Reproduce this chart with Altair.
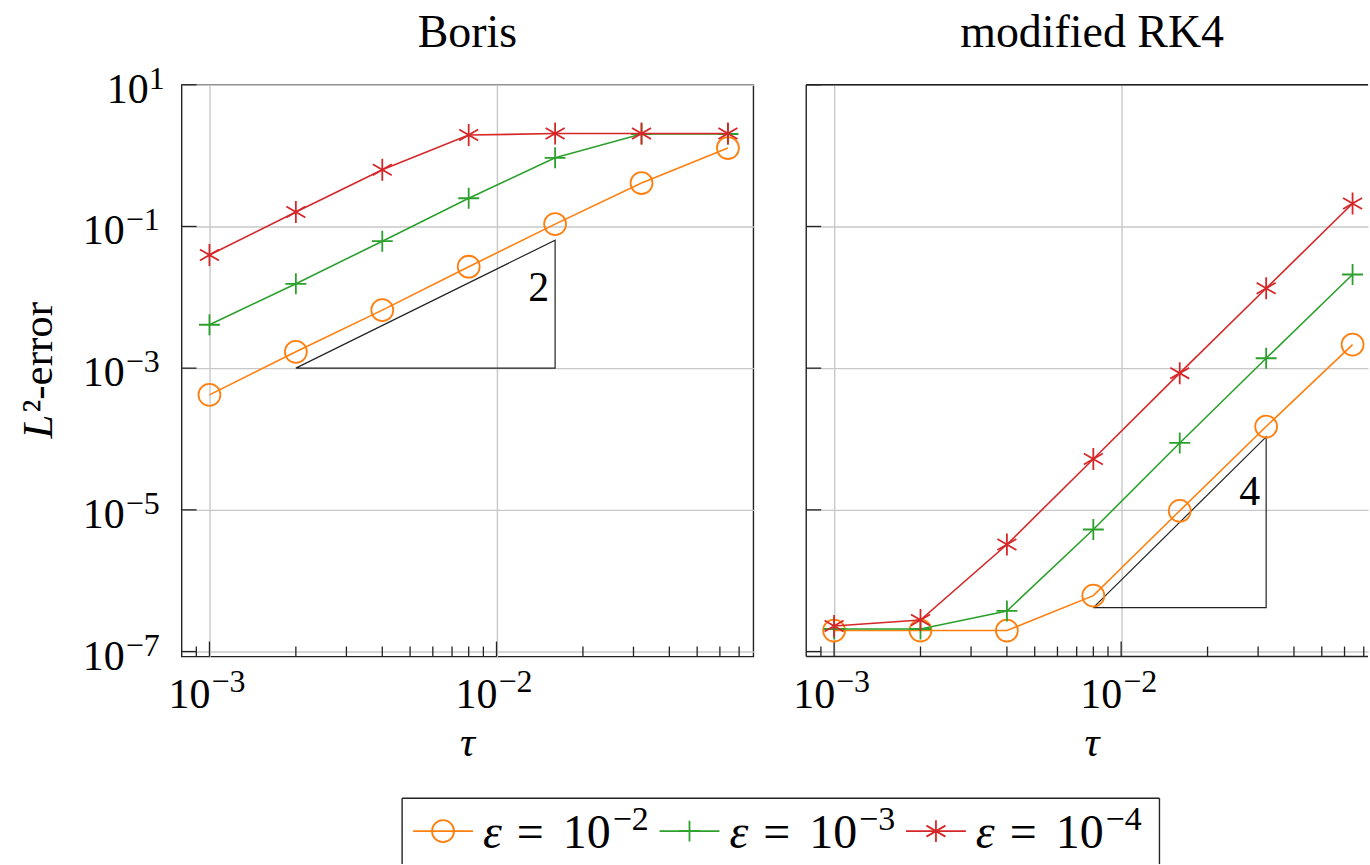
import altair as alt
import pandas as pd

# step sizes
tau = [0.001, 0.002, 0.004, 0.008, 0.016, 0.032, 0.064]

eps_exp = ["−2", "−3", "−4"]
eps_colors = ["#ff7f0e", "#2ca02c", "#d62728"]

# L2-errors, Boris integrator
boris_eps2 = [4.2e-4, 1.7e-3, 6.6e-3, 2.7e-2, 0.108, 0.41, 1.28]
boris_eps3 = [4.1e-3, 1.55e-2, 6.2e-2, 0.25, 0.93, 2.02, 2.02]
boris_eps4 = [3.96e-2, 0.16, 0.63, 1.95, 2.05, 2.05, 2.05]

# L2-errors, modified RK4
rk4_eps2 = [1.98e-7, 1.98e-7, 1.98e-7, 6.15e-7, 9.7e-6, 1.5e-4, 2.15e-3]
rk4_eps3 = [2.08e-7, 2.08e-7, 3.74e-7, 5.28e-6, 8.8e-5, 1.38e-3, 2.1e-2]
rk4_eps4 = [2.3e-7, 2.79e-7, 3.24e-6, 5.23e-5, 8.5e-4, 1.34e-2, 0.211]

# slope triangles
boris_tri_tau = [0.002, 0.016]
boris_tri_err = [1e-3, 0.064]
boris_tri_text = "2"
boris_tri_text_err = 0.0138
rk4_tri_tau = [0.008, 0.032]
rk4_tri_err = [4.17e-7, 1.07e-4]
rk4_tri_text = "4"
rk4_tri_text_err = 1.85e-5

# axis ticks
x_major = [1e-3, 1e-2]
x_major_exp = ["−3", "−2"]
x_minor = [9e-4, 2e-3, 3e-3, 4e-3, 5e-3, 6e-3, 7e-3, 8e-3, 9e-3,
           2e-2, 3e-2, 4e-2, 5e-2, 6e-2, 7e-2]
y_major = [1e1, 1e-1, 1e-3, 1e-5, 1e-7]
y_major_exp = ["1", "−1", "−3", "−5", "−7"]

W = 573          # full panel width
W_RIGHT = 563    # right panel, cut at the page edge
H = 573
DECADE_X = W / 1.9917
FONT = "Liberation Serif"
TICK_FS = 42
EXP_FS = 32
LEG_FS = 48
LEG_EXP_FS = 34
INK = "#222222"
GRID = "#c8c8c8"

X_LO = -3.097
y_scale = alt.Scale(type="log", domain=[10 ** -7.07, 10 ** 1.0], nice=False)
x_axis = alt.Axis(values=x_major, grid=True, labels=False, ticks=False, domain=False,
                  gridColor=GRID, gridWidth=1.4)
y_axis = alt.Axis(values=y_major, grid=True, labels=False, ticks=False, domain=False,
                  gridColor=GRID, gridWidth=1.4)


def Y(field):
    return alt.Y(field, type="quantitative", scale=y_scale, axis=y_axis, title=None)


one_row = pd.DataFrame({"k": [0]})
marker_paths = ["circle", "M-1,0H1M0,-1V1",
                "M0,-1V1M-0.866,-0.5L0.866,0.5M-0.866,0.5L0.866,-0.5"]
marker_sizes = [484, 441, 484]


def text_at(s, x, y, size, italic=False, align="left"):
    kw = dict(text=s, font=FONT, fontSize=size, align=align, baseline="alphabetic",
              color="black")
    if italic:
        kw["fontStyle"] = "italic"
    return alt.Chart(one_row).mark_text(**kw).encode(x=alt.value(x), y=alt.value(y))


def panel(title, errs, tri_tau, tri_err, tri_text, tri_text_err, is_left):
    width = W if is_left else W_RIGHT
    x_scale = alt.Scale(type="log", domain=[10 ** X_LO, 10 ** (X_LO + width / DECADE_X)],
                        nice=False)

    def X(field):
        return alt.X(field, type="quantitative", scale=x_scale, axis=x_axis, title=None)

    layers = []
    xt_minor = pd.DataFrame({"t": x_minor})
    xt_major = pd.DataFrame({"t": x_major, "e": x_major_exp})
    yt_major = pd.DataFrame({"v": y_major, "e": y_major_exp})

    if not is_left:
        # frame on three sides; the right side lies beyond the page
        layers.append(alt.Chart(one_row).mark_rule(color=INK, strokeWidth=1.4).encode(
            x=alt.value(0), x2=alt.value(width), y=alt.value(0)))
        layers.append(alt.Chart(one_row).mark_rule(color=INK, strokeWidth=1.4).encode(
            x=alt.value(0), x2=alt.value(width), y=alt.value(H)))
        layers.append(alt.Chart(one_row).mark_rule(color=INK, strokeWidth=1.4).encode(
            x=alt.value(0), y=alt.value(0), y2=alt.value(H)))

    # inward ticks
    layers.append(alt.Chart(xt_minor).mark_rule(color=INK, strokeWidth=1.3).encode(
        x=X("t"), y=alt.value(H), y2=alt.value(H - 10)))
    layers.append(alt.Chart(xt_major).mark_rule(color=INK, strokeWidth=1.3).encode(
        x=X("t"), y=alt.value(H), y2=alt.value(H - 15)))
    layers.append(alt.Chart(yt_major).mark_rule(color=INK, strokeWidth=1.3).encode(
        y=Y("v"), x=alt.value(0), x2=alt.value(15)))

    # x tick labels: base and exponent
    layers.append(alt.Chart(xt_major).mark_text(
        text="10", font=FONT, fontSize=TICK_FS, align="right", baseline="alphabetic",
        dx=1, color="black").encode(x=X("t"), y=alt.value(H + 52)))
    layers.append(alt.Chart(xt_major).mark_text(
        font=FONT, fontSize=EXP_FS, align="left", baseline="alphabetic",
        dx=2, color="black").encode(x=X("t"), y=alt.value(H + 36), text="e:N"))

    # slope triangle
    tri = pd.DataFrame({
        "tau": [tri_tau[0], tri_tau[1], tri_tau[1], tri_tau[0]],
        "err": [tri_err[0], tri_err[0], tri_err[1], tri_err[0]],
        "k": [0, 1, 2, 3],
    })
    layers.append(alt.Chart(tri).mark_line(color=INK, strokeWidth=1.2).encode(
        x=X("tau"), y=Y("err"), order="k:Q"))
    tri_lab = pd.DataFrame({"tau": [tri_tau[1]], "err": [tri_text_err]})
    layers.append(alt.Chart(tri_lab).mark_text(
        text=tri_text, font=FONT, fontSize=TICK_FS, align="right", baseline="alphabetic",
        dx=-6, dy=14, color="black").encode(x=X("tau"), y=Y("err")))

    # error curves, drawn series by series
    for vals, color, path, size in zip(errs, eps_colors, marker_paths, marker_sizes):
        d = pd.DataFrame({"tau": tau, "err": vals})
        layers.append(alt.Chart(d).mark_line(color=color, strokeWidth=1.6).encode(
            x=X("tau"), y=Y("err")))
        layers.append(alt.Chart(d).mark_point(
            color=color, shape=path, size=size, filled=False, strokeWidth=1.8,
            opacity=1).encode(x=X("tau"), y=Y("err")))

    # panel title and x label
    layers.append(text_at(title, W / 2, -38, 46, align="center"))
    layers.append(text_at("τ", W / 2, H + 100, 42, italic=True, align="center"))

    if is_left:
        # y tick labels
        layers.append(alt.Chart(yt_major).transform_filter("datum.v > 1").mark_text(
            text="10", font=FONT, fontSize=TICK_FS, align="left", baseline="alphabetic",
            color="black").encode(x=alt.value(-75), y=Y("v"), yOffset=alt.value(18)))
        layers.append(alt.Chart(yt_major).transform_filter("datum.v > 1").mark_text(
            font=FONT, fontSize=EXP_FS, align="left", baseline="alphabetic",
            color="black").encode(x=alt.value(-33), y=Y("v"), yOffset=alt.value(4),
                                  text="e:N"))
        layers.append(alt.Chart(yt_major).transform_filter("datum.v < 1").mark_text(
            text="10", font=FONT, fontSize=TICK_FS, align="left", baseline="alphabetic",
            color="black").encode(x=alt.value(-99), y=Y("v"), yOffset=alt.value(18)))
        layers.append(alt.Chart(yt_major).transform_filter("datum.v < 1").mark_text(
            font=FONT, fontSize=EXP_FS, align="left", baseline="alphabetic",
            color="black").encode(x=alt.value(-56), y=Y("v"), yOffset=alt.value(4),
                                  text="e:N"))
        # y label: italic L followed by the rest
        layers.append(alt.Chart(one_row).mark_text(
            text="L", font=FONT, fontSize=43, fontStyle="italic", angle=270,
            align="left", baseline="alphabetic", color="black").encode(
            x=alt.value(-130), y=alt.value(H / 2 + 68)))
        layers.append(alt.Chart(one_row).mark_text(
            text="²-error", font=FONT, fontSize=43, angle=270,
            align="left", baseline="alphabetic", color="black").encode(
            x=alt.value(-130), y=alt.value(H / 2 + 42)))

        # legend below both panels: frame, then one entry per series
        for x1, y1, x2, y2 in [(221, 715, 980, 715), (221, 715, 221, 781),
                               (980, 715, 980, 781)]:
            layers.append(alt.Chart(one_row).mark_rule(color=INK, strokeWidth=1.4).encode(
                x=alt.value(x1), x2=alt.value(x2), y=alt.value(y1), y2=alt.value(y2)))
        for i, (color, path, size, ex) in enumerate(
                zip(eps_colors, marker_paths, marker_sizes, eps_exp)):
            left_x = 232 + 247 * i
            layers.append(alt.Chart(one_row).mark_rule(color=color, strokeWidth=1.6).encode(
                x=alt.value(left_x), x2=alt.value(left_x + 60), y=alt.value(748)))
            layers.append(alt.Chart(one_row).mark_point(
                color=color, shape=path, size=size, filled=False, strokeWidth=1.8,
                opacity=1).encode(x=alt.value(left_x + 30), y=alt.value(748)))
            layers.append(text_at("ε", left_x + 70, 765, LEG_FS, italic=True))
            layers.append(text_at("=", left_x + 104, 765, LEG_FS))
            layers.append(text_at("10", left_x + 150, 765, LEG_FS))
            layers.append(text_at(ex, left_x + 200, 747, LEG_EXP_FS))

        # white anchor fixing the page origin
        layers.append(alt.Chart(one_row).mark_rule(color="white", strokeWidth=1).encode(
            x=alt.value(-180), x2=alt.value(-180), y=alt.value(-82), y2=alt.value(-80)))

    ch = alt.layer(*layers).properties(width=width, height=H)
    if not is_left:
        ch = ch.properties(view=alt.ViewBackground(stroke="transparent"))
    return ch


left = panel("Boris", [boris_eps2, boris_eps3, boris_eps4],
             boris_tri_tau, boris_tri_err, boris_tri_text, boris_tri_text_err, True)
right = panel("modified RK4", [rk4_eps2, rk4_eps3, rk4_eps4],
              rk4_tri_tau, rk4_tri_err, rk4_tri_text, rk4_tri_text_err, False)

chart = alt.hconcat(left, right, spacing=53, bounds="flush").properties(
    padding=0, background="white"
).configure(font=FONT).configure_text(font=FONT).configure_view(stroke=INK, strokeWidth=1.4)

chart.save("out.html", embed_options={"renderer": "svg", "actions": False})
